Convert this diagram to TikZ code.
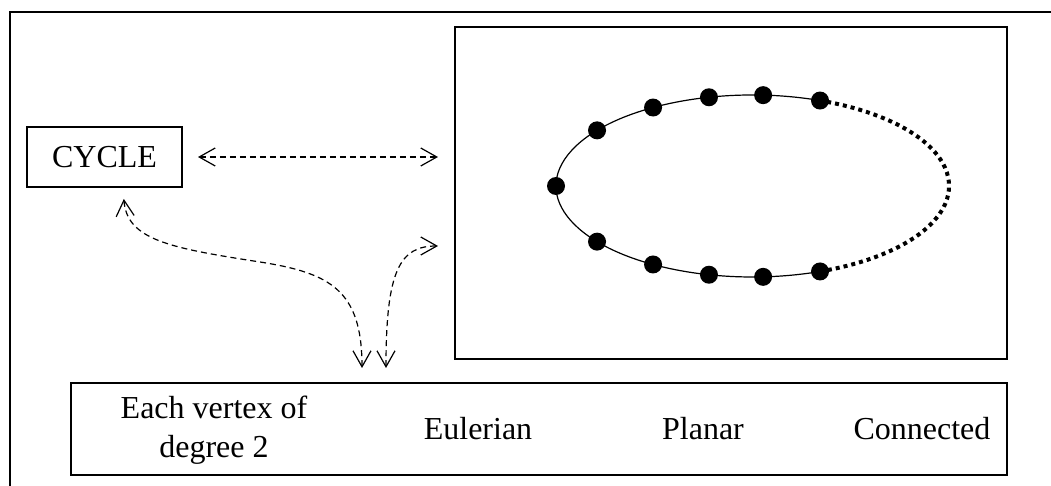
\documentclass[tikz,border=0pt]{standalone}
\usepackage{fontspec}
\setmainfont{Liberation Serif}
\usetikzlibrary{arrows.meta}

\tikzset{
  box/.style={draw, line width=1pt, inner sep=0pt},
  vtx/.style={circle, fill, inner sep=0pt, minimum size=9pt},
  link/.style={dash pattern=on 3pt off 2pt, line width=0.6pt,
    {Straight Barb[length=8pt,width=9pt]}-{Straight Barb[length=8pt,width=9pt]}},
  lbl/.style={font=\fontsize{16}{19.5}\selectfont, inner sep=0pt}
}

\begin{document}
\begin{tikzpicture}[x=0.5pt, y=-0.5pt]
            \clip (0,0) rectangle (1051,486);
            \draw[line width=1pt] (10,12) rectangle (1070,500);
            \node[box, lbl, minimum width=77.5pt, minimum height=30pt] (cycle) at (104.5,157) {CYCLE};
            \node[box, minimum width=276pt, minimum height=166pt] (graph) at (731,193) {};
            \node[box, minimum width=468pt, minimum height=46pt] (props) at (539,429) {};
            \node[lbl, align=center, anchor=base] (deg) at (214,458) {Each vertex of\\degree 2};
            \node[lbl, anchor=base] (euler) at (478,440) {Eulerian};
            \node[lbl, anchor=base] (planar) at (703,440) {Planar};
            \node[lbl, anchor=base] (conn) at (922,440) {Connected};
            % the cycle, open on the right
            \coordinate (ctr) at (752.5,186);
            \draw[line width=0.6pt] ([shift={(69.9:98.25pt and 45.5pt)}]ctr) arc [start angle=69.9, end angle=290.1, x radius=98.25pt, y radius=45.5pt];
            \draw[line width=2pt, dash pattern=on 2pt off 2pt] ([shift={(-69.9:98.25pt and 45.5pt)}]ctr) arc [start angle=-69.9, end angle=69.9, x radius=98.25pt, y radius=45.5pt];
            \foreach \a [count=\i] in {69.9,86.9,102.8,120.4,142.3,180,217.7,239.6,257.2,273.1,290.1}
                \node[vtx] (v\i) at ([shift={(\a:98.25pt and 45.5pt)}]ctr) {};
            % links
            \draw[link, shorten <=7.5pt, shorten >=8pt] (cycle.east) -- (cycle.east -| graph.west);
            \draw[link, shorten <=5.5pt, shorten >=7pt] ([xshift=9.25pt]cycle.south) .. controls (127,240) and (170,248) .. (260,262) .. controls (330,273) and (362,290) .. ([xshift=-88.5pt]props.north);
            \draw[link, shorten <=7pt, shorten >=8pt] ([xshift=-76.5pt]props.north) .. controls (386,270) and (400,246) .. ([yshift=-26.5pt]graph.west);
        \end{tikzpicture}
\end{document}
